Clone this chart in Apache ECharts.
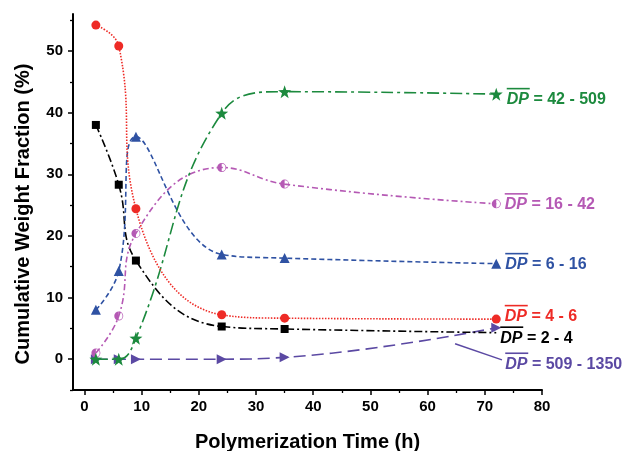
<!DOCTYPE html>
<html><head><meta charset="utf-8">
<script src="https://cdn.jsdelivr.net/npm/echarts@6/dist/echarts.min.js"></script>
<style>html,body{margin:0;padding:0;background:#fff}#c{width:625px;height:451px}</style>
</head><body><div id="c"></div>
<script>
// ---- data ----
const times = [2, 6, 9, 24, 35, 72];
const dp2_4 = [38.0, 28.3, 16.0, 5.3, 4.9, 4.3];
const dp4_6 = [54.2, 50.8, 24.4, 7.2, 6.65, 6.5];
const dp6_16 = [8.0, 14.3, 36.1, 17.0, 16.4, 15.5];
const dp16_42 = [1.0, 7.0, 20.4, 31.1, 28.4, 25.2];
const dp42_509 = [0, 0, 3.4, 39.9, 43.4, 43.0];
const dp509_1350 = [0, 0, 0, 0, 0.3, 5.1];
const seriesLabels = ['2 - 4', '4 - 6', '6 - 16', '16 - 42', '42 - 509', '509 - 1350'];
const xMajorTicks = [0, 10, 20, 30, 40, 50, 60, 70, 80];
const xMinorTicks = [5, 15, 25, 35, 45, 55, 65, 75];
const yMajorTicks = [0, 10, 20, 30, 40, 50];
const yMinorTicks = [-5, 5, 15, 25, 35, 45, 55];
const xTitle = 'Polymerization Time (h)';
const yTitle = 'Cumulative Weight Fraction (%)';

const FONT = '"Liberation Sans", Arial, sans-serif';
const pair = (ys) => times.map((t, i) => [t, ys[i]]);
const last = times.length - 1;

const STAR = 'path://M0,-10 L2.35,-3.24 L9.51,-3.09 L3.8,1.24 L5.88,8.09 L0,4 L-5.88,8.09 L-3.8,1.24 L-9.51,-3.09 L-2.35,-3.24 Z';
const RTRI = 'path://M-8,-9 L9,0 L-8,9 Z';
const HALF = 'path://M0,-10 A10,10 0 0,0 0,10 Z M0,10 A10,10 0 0,0 0,-10 L0,-8.4 A8.4,8.4 0 0,1 0,8.4 Z';

function lab(text, color) {
  return {
    show: true, position: 'right', distance: 4,
    formatter: p => p.dataIndex === last ? '{ol|}\n{dp|DP}{t| = ' + text + '}' : '',
    rich: {
      ol: { width: 23, height: 1.6, backgroundColor: color, lineHeight: 5 },
      dp: { fontStyle: 'italic', fontWeight: 'bold', fontSize: 16, color: color, lineHeight: 17, fontFamily: FONT },
      t: { fontWeight: 'bold', fontSize: 16, color: color, lineHeight: 17, fontFamily: FONT }
    }
  };
}

function line(name, ys, color, dash, symbol, size, label, dy, extra) {
  return Object.assign({
    name: name, type: 'line', data: pair(ys), smooth: 0.45,
    symbol: symbol, symbolSize: size, showAllSymbol: true,
    lineStyle: { color: color, width: 1.6, type: dash },
    itemStyle: { color: color },
    label: label, labelLayout: { hideOverlap: false, dy: dy },
    emphasis: { disabled: true }, animation: false
  }, extra || {});
}

const RED = '#ee2b26', BLK = '#000000', BLUE = '#2f52a3', MAG = '#b559b4', GRN = '#1c8a3e', PUR = '#5b49a3';

const black = line('2-4', dp2_4, BLK, [8, 3, 2, 3], 'rect', 8, lab(seriesLabels[0], BLK), 3);
black.data[last] = { value: black.data[last], symbolSize: 0 };

const option = {
  backgroundColor: '#fff',
  animation: false,
  grid: { left: 73, right: 83, top: 14, bottom: 61, containLabel: false, outerBoundsMode: 'none' },
  xAxis: [{
    type: 'value', min: -2, max: 80,
    name: xTitle, nameLocation: 'middle', nameGap: 42,
    nameTextStyle: { fontSize: 20, fontWeight: 'bold', color: '#000', fontFamily: FONT },
    axisLine: { show: true, onZero: false, lineStyle: { color: '#000', width: 2 } },
    axisTick: { show: true, inside: false, length: 5, lineStyle: { color: '#000', width: 1.5 }, customValues: xMajorTicks },
    axisLabel: { show: true, margin: 9, fontSize: 15, fontWeight: 'bold', color: '#000', fontFamily: FONT, customValues: xMajorTicks },
    splitLine: { show: false }
  }, {
    type: 'value', min: -2, max: 80, position: 'bottom',
    axisLine: { show: false, onZero: false },
    axisTick: { show: true, inside: false, length: 3, lineStyle: { color: '#000', width: 1.3 }, customValues: xMinorTicks },
    axisLabel: { show: false }, splitLine: { show: false }
  }],
  yAxis: [{
    type: 'value', min: -5, max: 56,
    name: yTitle, nameLocation: 'middle', nameGap: 40, nameRotate: 90,
    nameTextStyle: { fontSize: 20, fontWeight: 'bold', color: '#000', fontFamily: FONT, padding: [0, 24, 0, 0] },
    axisLine: { show: true, onZero: false, lineStyle: { color: '#000', width: 2 } },
    axisTick: { show: true, inside: false, length: 5, lineStyle: { color: '#000', width: 1.5 }, customValues: yMajorTicks },
    axisLabel: { show: true, margin: 10, fontSize: 15, fontWeight: 'bold', color: '#000', fontFamily: FONT, customValues: yMajorTicks },
    splitLine: { show: false }
  }, {
    type: 'value', min: -5, max: 56, position: 'left',
    axisLine: { show: false, onZero: false },
    axisTick: { show: true, inside: false, length: 3, lineStyle: { color: '#000', width: 1.3 }, customValues: yMinorTicks },
    axisLabel: { show: false }, splitLine: { show: false }
  }],
  series: [
    line('509-1350', dp509_1350, PUR, [12, 6], RTRI, 10, lab(seriesLabels[5], PUR), 34, {
      markLine: {
        silent: true, symbol: ['none', 'arrow'], symbolSize: [0, 8],
        lineStyle: { color: PUR, width: 1.4, type: 'solid' }, label: { show: false },
        data: [[{ coord: [64.8, 2.5] }, { coord: [73, -0.1] }]]
      }
    }),
    black,
    line('16-42', dp16_42, MAG, [6, 3, 2, 3], HALF, 9, lab(seriesLabels[3], MAG), -1.5),
    line('6-16', dp6_16, BLUE, [5, 3], 'triangle', 10, lab(seriesLabels[2], BLUE), -1.5),
    line('42-509', dp42_509, GRN, [12, 4, 3, 4], STAR, 13, lab(seriesLabels[4], GRN), 3),
    line('4-6', dp4_6, RED, [1.5, 1.5], 'circle', 9, lab(seriesLabels[1], RED), -5)
  ]
};

const chart = echarts.init(document.getElementById('c'), null, { renderer: 'canvas' });
chart.setOption(option);
</script>
</body></html>
